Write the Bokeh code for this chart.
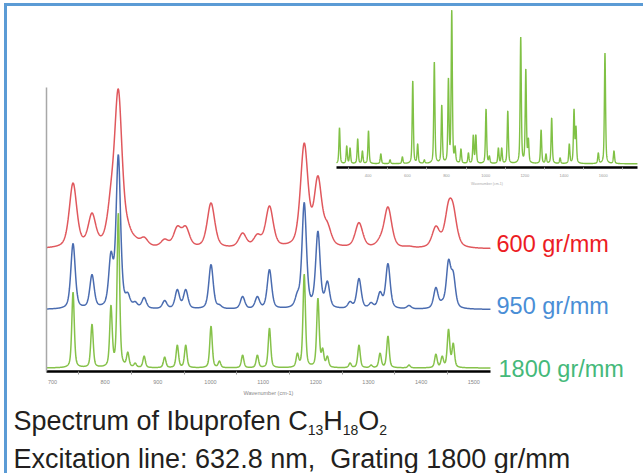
import numpy as np
from bokeh.plotting import figure
from bokeh.models import Label, FixedTicker, Range1d, Column, LinearAxis
from bokeh.embed import file_html
from bokeh.resources import INLINE

# ---------------- data ----------------
# main panel: Raman peaks (cm-1) and peak heights for each grating
peak_wn = [739, 775, 811, 825, 843, 857, 874, 913, 937, 953,
           1001, 1017, 1061, 1089, 1112, 1165, 1178, 1204, 1213, 1222,
           1265, 1282, 1305, 1322, 1337, 1377, 1428, 1440, 1452, 1461]
h_600 = [66, 36, 67, 160, 30, 13, 12, 10, 23, 23,
         46, 0, 16, 15, 43, 20, 104, 73, 0, 27,
         3, 26, 3, 13, 42, 3, 23, 0, 48, 45]
h_950 = [66, 35, 58, 155, 17, 8, 12, 9, 20, 20,
         45, 5, 13, 13, 40, 18, 107, 77, 10, 27,
         8, 31, 7, 18, 46, 4, 22, 10, 50, 38]
h_1800 = [76, 44, 63, 155, 16, 5, 12, 11, 23, 23,
          42, 7, 13, 13, 40, 15, 94, 70, 20, 12,
          5, 23, 3, 15, 32, 3, 14, 12, 39, 25]
series_names = ["600 gr/mm", "950 gr/mm", "1800 gr/mm"]
series_offsets = [122.5, 62.0, 3.5]
series_hwhm = [8.5, 5.0, 2.8]

# inset: full-range spectrum, 1800 gr/mm
inset_wn = [254, 291, 308, 347, 371, 402, 465, 512, 575, 628,
            653, 687, 738, 776, 810, 827, 844, 874, 912, 937,
            950, 1002, 1019, 1065, 1082, 1113, 1179, 1205, 1218, 1283,
            1308, 1337, 1380, 1427, 1451, 1461, 1575, 1609, 1655]
inset_h = [36, 18, 16, 25, 13, 33, 10, 4, 7, 83,
           20, 4, 102, 59, 86, 154, 18, 15, 11, 29,
           29, 55, 8, 16, 16, 53, 127, 95, 26, 34,
           10, 46, 6, 20, 55, 38, 11, 111, 13]

main_ticks = [700, 800, 900, 1000, 1100, 1200, 1300, 1400, 1500]
main_minor = [750, 850, 950, 1050, 1150, 1250, 1350, 1450]
inset_ticks = [400, 600, 800, 1000, 1200, 1400, 1600]
inset_minor = [300, 500, 700, 900, 1100, 1300, 1500, 1700]


def shape(x, c, w):
    d = (np.asarray(x, float) - c) / w
    return 0.5 / (1.0 + d * d) + 0.5 * np.exp(-np.log(2.0) * d * d)


def spectrum(x, centers, heights, w):
    c = np.array([ci for ci, hi in zip(centers, heights) if hi > 0], float)
    h = np.array([hi for hi in heights if hi > 0], float)
    M = shape(c[:, None], c[None, :], w)
    a = np.clip(np.linalg.solve(M, h), 0, None)
    return (a[None, :] * shape(x[:, None], c[None, :], w)).sum(axis=1)


FONT = "Liberation Sans"

# ---------------- geometry (page pixels) ----------------
OX, OY = 7, 6                    # canvas origin inside the bordered box
CW, CH = 636, 467                # canvas size (frame = whole canvas)
F_L, F_R, F_T, F_B = OX, OX + CW, OY, OY + CH
AX_Y = 371                       # page y of main x axis
AX_X = 46                        # page x of main y axis
MAIN_TOP = 87                    # page y of top of main y axis
MX0, MX1 = 688.6, 1531.7         # main x extent (axis from px 46 to 490)
kx = (490 - AX_X) / (MX1 - MX0)
IX0, IX1 = 238.7, 1775.0         # inset x extent (px 336 to 637)
IPX0, IPX1 = 336, 637
ki = (IPX1 - IPX0) / (IX1 - IX0)
INSET_BASE = 163.3               # page y of inset zero level
INSET_AXIS_Y = 167               # page y of inset axis


def mx(px):
    return MX0 + (px - AX_X) / kx


def my(py):
    return AX_Y - py


p = figure(width=CW, height=CH, output_backend="svg", toolbar_location=None,
           x_range=Range1d(mx(F_L), mx(F_R)),
           y_range=Range1d(my(F_B), my(F_T)),
           min_border=0, min_border_left=0, min_border_right=0,
           min_border_top=0, min_border_bottom=0)
p.background_fill_color = None
p.border_fill_color = None
p.outline_line_color = None
p.xgrid.visible = False
p.ygrid.visible = False

p.extra_x_ranges = {"inset": Range1d(IX0 - (IPX0 - F_L) / ki, IX1 + (F_R - IPX1) / ki)}
p.extra_y_ranges = {"inset": Range1d(INSET_BASE - F_B, INSET_BASE - F_T)}

# main spectra
x_main = np.arange(MX0, MX1, 0.5)
line_colors = ["#E0585D", "#4A6CB0", "#86C24A"]
for heights, off, w, col in zip([h_600, h_950, h_1800], series_offsets, series_hwhm, line_colors):
    y = off + spectrum(x_main, peak_wn, heights, w)
    p.line(x=x_main, y=y, line_color=col, line_width=1.5)

# inset spectrum
x_in = np.arange(IX0, IX1, 0.5)
p.line(x=x_in, y=spectrum(x_in, inset_wn, inset_h, 3.5), line_color="#80C145", line_width=1.4,
       x_range_name="inset", y_range_name="inset")

# main x axis, fixed at the zero level of the main panel
xa = p.xaxis[0]
xa.fixed_location = 0
xa.bounds = (MX0, MX1)
xa.ticker = FixedTicker(ticks=main_ticks, minor_ticks=main_minor)
xa.axis_line_color = "black"
xa.axis_line_width = 2.5
xa.major_tick_line_color = None
xa.major_tick_out = 0
xa.major_tick_in = 0
xa.minor_tick_line_color = "#999999"
xa.minor_tick_out = 3
xa.minor_tick_in = 0
xa.major_label_text_font = FONT
xa.major_label_text_font_size = "5.5px"
xa.major_label_text_color = "#888888"
xa.major_label_standoff = 5
xa.axis_label = "Wavenumber (cm-1)"
xa.axis_label_text_font = FONT
xa.axis_label_text_font_size = "5.5px"
xa.axis_label_text_font_style = "normal"
xa.axis_label_text_color = "#888888"
xa.axis_label_standoff = 3

# main y axis (plain grey line)
ya = p.yaxis[0]
ya.fixed_location = MX0
ya.bounds = (0, my(MAIN_TOP))
ya.ticker = FixedTicker(ticks=[])
ya.axis_line_color = "#A8A8A8"
ya.axis_line_width = 1.5
ya.major_tick_line_color = None
ya.minor_tick_line_color = None
ya.major_label_text_color = None

# inset x axis, fixed inside the frame
ia = LinearAxis(x_range_name="inset", bounds=(IX0, IX1), fixed_location=my(INSET_AXIS_Y),
                ticker=FixedTicker(ticks=inset_ticks, minor_ticks=inset_minor))
ia.axis_line_color = "black"
ia.axis_line_width = 2.5
ia.major_tick_line_color = None
ia.major_tick_out = 0
ia.major_tick_in = 0
ia.minor_tick_line_color = "#AAAAAA"
ia.minor_tick_out = 2
ia.minor_tick_in = 0
ia.major_label_text_font = FONT
ia.major_label_text_font_size = "4px"
ia.major_label_text_color = "#999999"
ia.major_label_standoff = 4
ia.axis_label = "Wavenumber (cm-1)"
ia.axis_label_text_font = FONT
ia.axis_label_text_font_size = "3.5px"
ia.axis_label_text_font_style = "normal"
ia.axis_label_text_color = "#AAAAAA"
ia.axis_label_standoff = 2
p.add_layout(ia, "below")

# series labels
label_colors = ["#EC1C24", "#4A8ED6", "#45B97A"]
label_pos = [(496, 243.3), (496, 305.0), (498, 368.3)]
for name, col, (px, py) in zip(series_names, label_colors, label_pos):
    p.add_layout(Label(x=mx(px), y=my(py), text=name,
                       text_font=FONT, text_font_size="23.5px", text_color=col,
                       text_baseline="alphabetic"))

# caption with subscripts
W = {' ': 278, 'S': 667, 'p': 556, 'e': 556, 'c': 500, 't': 278, 'r': 333, 'u': 556,
     'm': 833, 'o': 556, 'f': 278, 'I': 278, 'b': 556, 'n': 556, 'C': 722, 'H': 722,
     'O': 778, '1': 556, '3': 556, '8': 556, '2': 556}


def tw(s, size):
    return sum(W.get(ch, 556) for ch in s) * size / 1000.0


cap_color = "#231F20"
big, small = 27, 14
pieces = [("Spectrum of Ibuprofen C", big, 0), ("13", small, 9), ("H", big, 0),
          ("18", small, 9), ("O", big, 0), ("2", small, 9)]
cx = 13.0
for txt, size, dy in pieces:
    p.add_layout(Label(x=mx(cx), y=my(420 + dy), text=txt,
                       text_font=FONT, text_font_size=f"{size}px", text_color=cap_color,
                       text_baseline="alphabetic"))
    cx += tw(txt, size)
p.add_layout(Label(x=mx(13), y=my(458), text="Excitation line: 632.8 nm,\u00a0 Grating 1800 gr/mm",
                   text_font=FONT, text_font_size=f"{big}px", text_color=cap_color,
                   text_baseline="alphabetic"))

layout = Column(children=[p], margin=(3, 0, 0, 4),
                styles={"border-left": "3px solid #5B9BD5", "border-top": "3px solid #5B9BD5"})

open("out.html", "w").write(file_html(layout, INLINE))
